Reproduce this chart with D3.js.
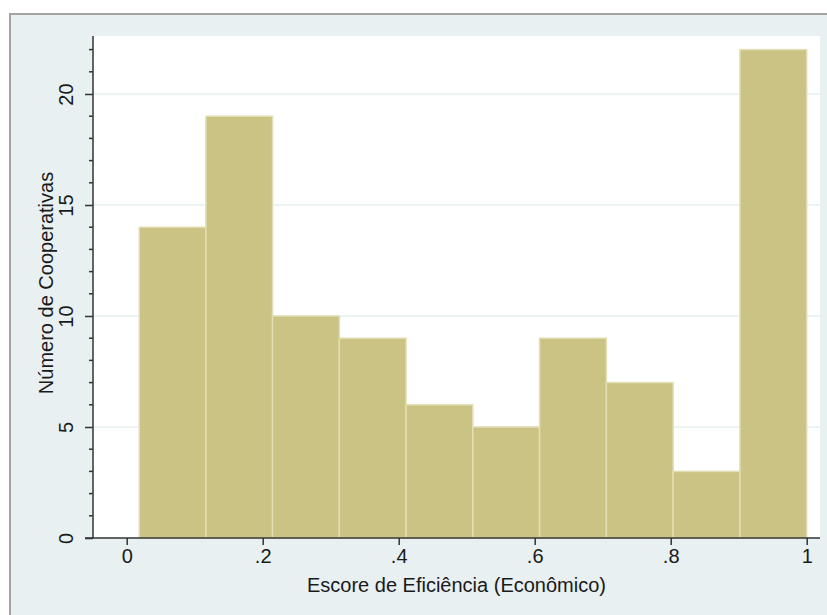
<!DOCTYPE html>
<html>
<head>
<meta charset="utf-8">
<script src="https://cdn.jsdelivr.net/npm/d3@7"></script>
<style>
  html, body { margin: 0; padding: 0; background: #ffffff; }
  svg { display: block; }
  text { font-family: "Liberation Sans", Arial, sans-serif; fill: #1a1a1a; }
</style>
</head>
<body>
<svg id="chart" width="827" height="615"></svg>
<script>
// ---- data ----
const binEdges = [0.0185, 0.1165, 0.2145, 0.3128, 0.4108, 0.5090, 0.6072, 0.7054, 0.8036, 0.9018, 1.0];
const counts = [14, 19, 10, 9, 6, 5, 9, 7, 3, 22];
const xTicks = [0, 0.2, 0.4, 0.6, 0.8, 1];
const xTickLabels = ["0", ".2", ".4", ".6", ".8", "1"];
const yTicks = [0, 5, 10, 15, 20];
const yMinorTicks = [1,2,3,4,6,7,8,9,11,12,13,14,16,17,18,19,21,22];
const xTitle = "Escore de Eficiência (Econômico)";
const yTitle = "Número de Cooperativas";

const bins = counts.map((c, i) => ({ x0: binEdges[i], x1: binEdges[i + 1], n: c }));

const svg = d3.select("#chart");

// outer frame
svg.append("rect").attr("x", 10).attr("y", 14).attr("width", 830).attr("height", 620)
  .attr("fill", "#e8f0f2").attr("stroke", "#a3a3a3").attr("stroke-width", 2);

// plot region
const plot = { left: 93, right: 820, top: 36, bottom: 538 };
svg.append("rect").attr("x", plot.left).attr("y", plot.top)
  .attr("width", plot.right - plot.left).attr("height", plot.bottom - plot.top)
  .attr("fill", "#ffffff");

const x = d3.scaleLinear().domain([0, 1]).range([126.7, 806.7]);
const y = d3.scaleLinear().domain([0, 22]).range([538, 49.6]);

// gridlines
svg.append("g").selectAll("line").data(yTicks.filter(d => d > 0)).join("line")
  .attr("x1", plot.left).attr("x2", plot.right)
  .attr("y1", d => y(d)).attr("y2", d => y(d))
  .attr("stroke", "#e6eff1").attr("stroke-width", 1.5);

// bars
svg.append("g").selectAll("rect").data(bins).join("rect")
  .attr("x", d => x(d.x0))
  .attr("y", d => y(d.n))
  .attr("width", d => x(d.x1) - x(d.x0))
  .attr("height", d => y(0) - y(d.n))
  .attr("fill", "#cac384")
  .attr("stroke", "#e2deb4")
  .attr("stroke-width", 1.5);

// x axis
const xAxis = d3.axisBottom(x).tickValues(xTicks)
  .tickFormat((d, i) => xTickLabels[i]).tickSize(7).tickPadding(4);
const gx = svg.append("g").attr("transform", `translate(0,${plot.bottom})`).call(xAxis);
gx.select(".domain").remove();
gx.selectAll(".tick line").attr("stroke", "#333").attr("stroke-width", 1.5);
gx.selectAll(".tick text").attr("font-size", 20).attr("fill", "#1a1a1a")
  .attr("font-family", "Liberation Sans, Arial, sans-serif");
svg.append("line").attr("x1", 85).attr("x2", plot.right)
  .attr("y1", plot.bottom).attr("y2", plot.bottom)
  .attr("stroke", "#333").attr("stroke-width", 1.5);

// y axis
const yAxis = d3.axisLeft(y).tickValues(yTicks).tickSize(8).tickPadding(0).tickFormat(d3.format("d"));
const gy = svg.append("g").attr("transform", `translate(${plot.left},0)`).call(yAxis);
gy.select(".domain").remove();
gy.selectAll(".tick line").attr("stroke", "#333").attr("stroke-width", 1.5);
gy.selectAll(".tick text").attr("font-size", 20).attr("fill", "#1a1a1a")
  .attr("font-family", "Liberation Sans, Arial, sans-serif")
  .attr("text-anchor", "middle")
  .attr("transform", "translate(-20,0) rotate(-90)")
  .attr("x", 0).attr("dy", 0).attr("y", 0);
// minor ticks
svg.append("g").selectAll("line").data(yMinorTicks).join("line")
  .attr("x1", plot.left - 4).attr("x2", plot.left)
  .attr("y1", d => y(d)).attr("y2", d => y(d))
  .attr("stroke", "#333").attr("stroke-width", 1.5);
svg.append("line").attr("x1", plot.left).attr("x2", plot.left)
  .attr("y1", plot.top).attr("y2", plot.bottom)
  .attr("stroke", "#333").attr("stroke-width", 1.5);

// titles
svg.append("text").attr("x", (plot.left + plot.right) / 2).attr("y", 592)
  .attr("text-anchor", "middle").attr("font-size", 20).text(xTitle);
svg.append("text").attr("transform", `translate(53,${(plot.top + plot.bottom) / 2 - 4}) rotate(-90)`)
  .attr("text-anchor", "middle").attr("font-size", 20).text(yTitle);
</script>
</body>
</html>
